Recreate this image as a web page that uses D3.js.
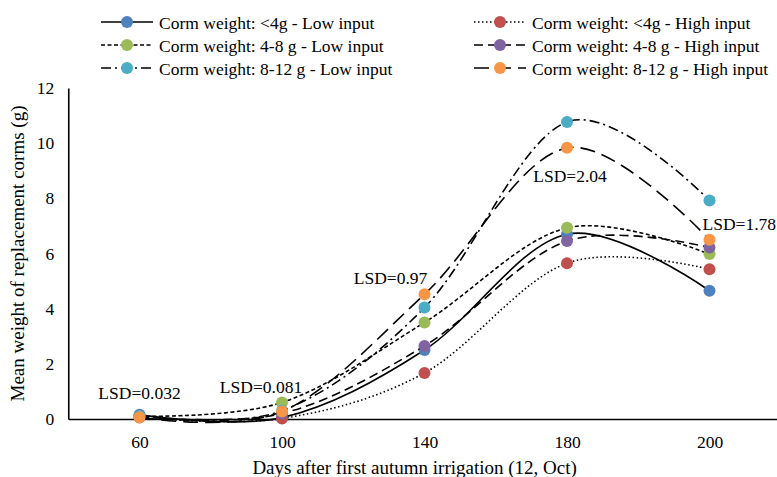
<!DOCTYPE html>
<html>
<head>
<meta charset="utf-8">
<script src="https://cdn.jsdelivr.net/npm/d3@7"></script>
<style>
  html, body { margin: 0; padding: 0; background: #fff; }
  svg { display: block; }
  text { font-family: "Liberation Serif", "Times New Roman", serif; fill: #000; }
</style>
</head>
<body>
<svg id="chart" width="777" height="477"></svg>
<script>
// Days after first autumn irrigation (categorical axis)
const days = ["60", "100", "140", "180", "200"];

// Mean weight of replacement corms (g) per treatment
const lowSmall   = [0.15, 0.05, 2.50, 6.70, 4.65];  // <4g, low input
const highSmall  = [0.05, 0.02, 1.67, 5.65, 5.43];  // <4g, high input
const lowMedium  = [0.10, 0.60, 3.50, 6.93, 5.98];  // 4-8 g, low input
const highMedium = [0.08, 0.20, 2.65, 6.45, 6.22];  // 4-8 g, high input
const lowLarge   = [0.10, 0.30, 4.04, 10.77, 7.92]; // 8-12 g, low input
const highLarge  = [0.06, 0.27, 4.52, 9.83, 6.50];  // 8-12 g, high input

const seriesNames = [
  "Corm weight: <4g - Low input",
  "Corm weight: <4g - High input",
  "Corm weight: 4-8 g - Low input",
  "Corm weight: 4-8 g - High input",
  "Corm weight: 8-12 g - Low input",
  "Corm weight: 8-12 g - High input"
];
const seriesValues = [lowSmall, highSmall, lowMedium, highMedium, lowLarge, highLarge];
const seriesColors = ["#4F81BD", "#C0504D", "#9BBB59", "#8064A2", "#4BACC6", "#F79646"];
const seriesDash   = [null, "1.5,2.5", "4,2.5", "9,5", "10,4,2,4", "15,7"];

// LSD annotations at each sampling date
const lsdLabels = ["LSD=0.032", "LSD=0.081", "LSD=0.97", "LSD=2.04", "LSD=1.78"];
const yTicks = [0, 2, 4, 6, 8, 10, 12];

const svg = d3.select("#chart");

const plot = { left: 68.25, right: 780.75, top: 88, bottom: 419 };
const fontSize = "17.5px";

const x = d3.scalePoint().domain(days).range([plot.left, plot.right]).padding(0.5);
const y = d3.scaleLinear().domain([0, 12]).range([plot.bottom, plot.top]);

// Axes
const yAxis = svg.append("g")
  .attr("transform", `translate(${plot.left},0)`)
  .call(d3.axisLeft(y).tickValues(yTicks).tickSize(0).tickPadding(14).tickFormat(d3.format("d")));
yAxis.select(".domain").attr("stroke", "#000").attr("stroke-width", 1.6);
yAxis.selectAll("text").style("font-size", fontSize).style("font-family", "Liberation Serif");

const xAxis = svg.append("g")
  .attr("transform", `translate(0,${plot.bottom})`)
  .call(d3.axisBottom(x).tickSize(0).tickPadding(17));
xAxis.select(".domain").attr("stroke", "#000").attr("stroke-width", 1.6);
xAxis.selectAll("text").style("font-size", fontSize).style("font-family", "Liberation Serif");

// Axis titles
svg.append("text")
  .attr("x", (plot.left + 777) / 2 - 8)
  .attr("y", 474)
  .attr("text-anchor", "middle")
  .style("font-size", "19px")
  .text("Days after first autumn irrigation (12, Oct)");

svg.append("text")
  .attr("transform", `translate(24,${(plot.top + plot.bottom) / 2}) rotate(-90)`)
  .attr("text-anchor", "middle")
  .style("font-size", "19px")
  .text("Mean weight of replacement corms (g)");

// Smoothed series lines with markers
const line = d3.line()
  .x((d, i) => x(days[i]))
  .y(d => y(d))
  .curve(d3.curveCardinal.tension(0));

seriesValues.forEach((vals, s) => {
  const g = svg.append("g");
  g.append("path")
    .attr("d", line(vals))
    .attr("fill", "none")
    .attr("stroke", "#000")
    .attr("stroke-width", 1.6)
    .attr("stroke-dasharray", seriesDash[s]);
  g.selectAll("circle")
    .data(vals)
    .join("circle")
    .attr("cx", (d, i) => x(days[i]))
    .attr("cy", d => y(d))
    .attr("r", 6)
    .attr("fill", seriesColors[s]);
});

// LSD labels
const lsdPos = [
  { day: "60",  dx: 0,   y: 399, anchor: "middle" },
  { day: "100", dx: -21, y: 393, anchor: "middle" },
  { day: "140", dx: -34, y: 284, anchor: "middle" },
  { day: "180", dx: 3,   y: 182, anchor: "middle" },
  { day: "200", dx: -7,  y: 230, anchor: "start" }
];
svg.selectAll("text.lsd")
  .data(lsdLabels)
  .join("text")
  .attr("class", "lsd")
  .attr("x", (d, i) => x(lsdPos[i].day) + lsdPos[i].dx)
  .attr("y", (d, i) => lsdPos[i].y)
  .attr("text-anchor", (d, i) => lsdPos[i].anchor)
  .style("font-size", fontSize)
  .text(d => d);

// Legend: two columns, low input on the left, high input on the right
const legendCols = [101, 474];
const legendRows = [22, 45, 68];
seriesNames.forEach((name, s) => {
  const col = s % 2, row = Math.floor(s / 2);
  const lx = legendCols[col], ly = legendRows[row];
  const g = svg.append("g").attr("transform", `translate(${lx},${ly})`);
  g.append("line")
    .attr("x1", 0).attr("x2", 52)
    .attr("y1", 0).attr("y2", 0)
    .attr("stroke", "#000")
    .attr("stroke-width", 1.6)
    .attr("stroke-dasharray", seriesDash[s]);
  g.append("circle").attr("cx", 26).attr("cy", 0).attr("r", 6).attr("fill", seriesColors[s]);
  g.append("text")
    .attr("x", 58)
    .attr("y", 6.5)
    .style("font-size", fontSize)
    .text(name);
});
</script>
</body>
</html>
